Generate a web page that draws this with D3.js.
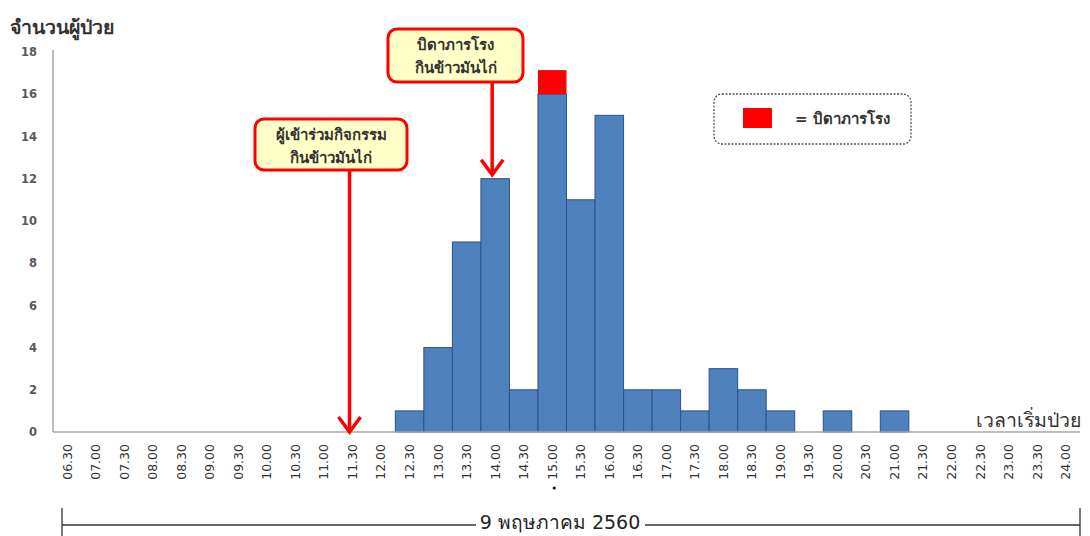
<!DOCTYPE html>
<html><head><meta charset="utf-8">
<script src="https://cdn.jsdelivr.net/npm/d3@7/dist/d3.min.js"></script>
<style>
body{margin:0;background:#fff;}
svg{display:block;font-family:Tahoma,"DejaVu Sans","Noto Sans",sans-serif;}
</style></head>
<body><svg id="c" width="1090" height="536"></svg>
<script>
const timeLabels = ["06.30","07.00","07.30","08.00","08.30","09.00","09.30","10.00","10.30","11.00","11.30","12.00","12.30","13.00","13.30","14.00","14.30","15.00","15.30","16.00","16.30","17.00","17.30","18.00","18.30","19.00","19.30","20.00","20.30","21.00","21.30","22.00","22.30","23.00","23.30","24.00"];
const patients = [0,0,0,0,0,0,0,0,0,0,0,0,1,4,9,12,2,16,11,15,2,2,1,3,2,1,0,1,0,1,0,0,0,0,0,0];
const janitor  = [0,0,0,0,0,0,0,0,0,0,0,0,0,0,0,0,0,1,0,0,0,0,0,0,0,0,0,0,0,0,0,0,0,0,0,0];
const yTicks = [0,2,4,6,8,10,12,14,16,18];
const annotations = [
  {at:"11.30", lines:["ผู้เข้าร่วมกิจกรรม","กินข้าวมันไก่"], target:0},
  {at:"14.00", lines:["บิดาภารโรง","กินข้าวมันไก่"], target:12}
];
const yTitle = "จำนวนผู้ป่วย";
const xTitle = "เวลาเริ่มป่วย";
const dateLabel = "9 พฤษภาคม 2560";
const legendLabel = "= บิดาภารโรง";

const svg = d3.select("#c");
const x = d3.scaleBand().domain(timeLabels).range([53,1080]).padding(0);
const y = d3.scaleLinear().domain([0,18]).range([432,52]);

// bars
const data = timeLabels.map((t,i)=>({t, v:patients[i], r:janitor[i]}));
svg.append("g").selectAll("rect").data(data.filter(d=>d.v>0)).join("rect")
  .attr("x",d=>x(d.t)).attr("width",x.bandwidth())
  .attr("y",d=>y(d.v)).attr("height",d=>y(0)-y(d.v))
  .attr("fill","#4f81bd").attr("stroke","#2d5287").attr("stroke-width",1);
svg.append("g").selectAll("rect").data(data.filter(d=>d.r>0)).join("rect")
  .attr("x",d=>x(d.t)).attr("width",x.bandwidth())
  .attr("y",d=>y(d.v+d.r)-3).attr("height",d=>y(d.v)-y(d.v+d.r)+3)
  .attr("fill","#ff0000");

// axes
const ya = svg.append("g").attr("transform","translate(53,0)")
  .call(d3.axisLeft(y).tickValues(yTicks).tickSize(0).tickPadding(16));
ya.select(".domain").attr("stroke","#a6a6a6").attr("stroke-width",1.5).attr("d","M0,50V432");
ya.selectAll("text").attr("font-size",11.5).attr("font-weight","bold").attr("fill","#595959")
  .attr("font-family","'DejaVu Sans',sans-serif");

const xa = svg.append("g").attr("transform","translate(0,432)")
  .call(d3.axisBottom(x).tickSize(0));
xa.select(".domain").attr("stroke","#a6a6a6").attr("stroke-width",1.5).attr("d","M53,0H1080");
xa.selectAll("text").attr("transform","rotate(-90)").attr("text-anchor","end")
  .attr("x",-12).attr("y",0).attr("dy","0.35em")
  .attr("font-size",12.5).attr("fill","#333").attr("font-family","'DejaVu Sans',sans-serif");

// small dot under 15.00
svg.append("circle").attr("cx",x("15.00")+x.bandwidth()/2+2).attr("cy",488).attr("r",1.6).attr("fill","#111");

// titles
svg.append("text").attr("x",10).attr("y",34).attr("font-size",19.5).attr("font-weight","bold")
  .attr("fill","#333").text(yTitle);
svg.append("text").attr("x",1081).attr("y",427).attr("text-anchor","end").attr("font-size",19.5)
  .attr("fill","#333").text(xTitle);

// annotations
const boxes = [{x:255,y:119,w:152,h:51},{x:388,y:29,w:135,h:53}];
annotations.forEach((a,i)=>{
  const b = boxes[i];
  const cx = x(a.at)+x.bandwidth()/2 - 3;
  const tipY = y(a.target)+ (a.target===0?0:-4);
  const g = svg.append("g");
  g.append("line").attr("x1",cx).attr("x2",cx).attr("y1",b.y+b.h).attr("y2",tipY-2)
    .attr("stroke","#ff0000").attr("stroke-width",3.5);
  g.append("path").attr("d",`M${cx-11},${tipY-15}L${cx},${tipY}L${cx+11},${tipY-15}`)
    .attr("fill","none").attr("stroke","#ff0000").attr("stroke-width",3.5).attr("stroke-linejoin","miter");
  g.append("rect").attr("x",b.x).attr("y",b.y).attr("width",b.w).attr("height",b.h)
    .attr("rx",9).attr("fill","#ffffc8").attr("stroke","#ff0000").attr("stroke-width",3);
  a.lines.forEach((l,j)=>{
    g.append("text").attr("x",b.x+b.w/2).attr("y",b.y+21+j*23).attr("text-anchor","middle")
      .attr("font-size",15).attr("font-weight","bold").attr("fill","#333").text(l);
  });
});

// legend
const lg = svg.append("g");
lg.append("rect").attr("x",714).attr("y",94).attr("width",197).attr("height",50).attr("rx",8)
  .attr("fill","#fff").attr("stroke","#555").attr("stroke-width",1.3).attr("stroke-dasharray","2,1.5");
lg.append("rect").attr("x",743).attr("y",108).attr("width",29).attr("height",20).attr("fill","#ff0000");
lg.append("text").attr("x",795).attr("y",124).attr("font-size",15).attr("font-weight","bold")
  .attr("fill","#333").text(legendLabel);

// date bracket
const bg = svg.append("g").attr("stroke","#333").attr("stroke-width",1.3);
bg.append("line").attr("x1",62).attr("x2",62).attr("y1",508).attr("y2",536);
bg.append("line").attr("x1",1080).attr("x2",1080).attr("y1",508).attr("y2",536);
bg.append("line").attr("x1",62).attr("x2",476).attr("y1",525).attr("y2",525);
bg.append("line").attr("x1",645).attr("x2",1080).attr("y1",525).attr("y2",525);
svg.append("text").attr("x",560).attr("y",529).attr("text-anchor","middle").attr("font-size",19)
  .attr("fill","#222").text(dateLabel);
</script></body></html>
